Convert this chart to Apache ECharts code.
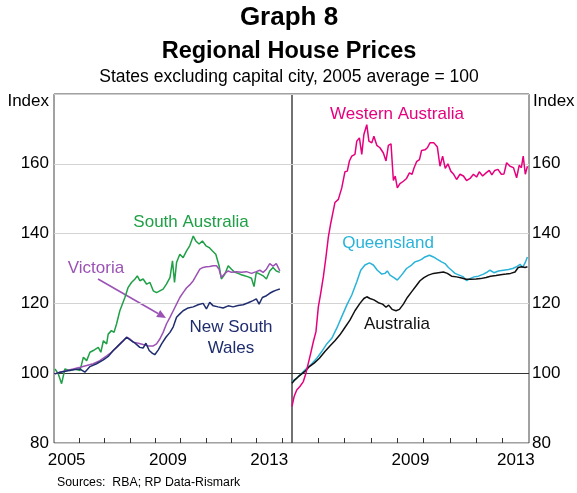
<!DOCTYPE html>
<html><head><meta charset="utf-8">
<script src="https://cdn.jsdelivr.net/npm/echarts@6/dist/echarts.min.js"></script>
<style>html,body{margin:0;padding:0;background:#fff}#c{width:577px;height:493px}</style>
</head><body><div id="c"></div>
<script>
// ---- Data (decimal year, index value) ----
const saT = [2005.04,2005.17,2005.30,2005.43,2005.63,2005.83,2006.03,2006.16,2006.29,2006.42,2006.55,2006.75,2006.85,2006.95,2007.08,2007.14,2007.27,2007.37,2007.47,2007.60,2007.80,2007.93,2008.06,2008.20,2008.29,2008.39,2008.52,2008.66,2008.79,2008.92,2009.05,2009.18,2009.31,2009.44,2009.58,2009.68,2009.76,2009.84,2009.97,2010.10,2010.23,2010.36,2010.50,2010.60,2010.73,2010.86,2011.00,2011.13,2011.26,2011.39,2011.52,2011.61,2011.75,2011.88,2012.01,2012.14,2012.27,2012.40,2012.53,2012.67,2012.80,2012.90,2012.99,2013.13,2013.26,2013.39,2013.52,2013.65,2013.78,2013.92];
const saV = [101.2,99.8,97.0,101.2,100.8,101.2,100.8,104.6,103.6,106.0,106.5,107.4,106.0,109.3,108.4,111.2,112.2,111.7,114.1,117.9,121.7,124.6,126.0,127.0,127.9,126.5,127.0,125.5,126.0,123.6,123.1,123.6,124.1,125.5,127.4,132.2,126.0,131.7,134.1,133.1,135.0,136.5,139.3,137.9,137.0,137.9,136.5,136.0,135.0,134.1,130.8,127.0,128.4,130.8,129.8,128.9,128.6,128.2,127.9,127.6,127.2,124.8,128.9,128.4,127.9,127.0,129.3,130.3,129.3,128.9];

const vicT = [2005.04,2005.24,2005.50,2005.76,2006.03,2006.29,2006.55,2006.81,2007.08,2007.27,2007.47,2007.67,2007.87,2008.00,2008.13,2008.33,2008.52,2008.72,2008.92,2009.05,2009.18,2009.31,2009.44,2009.58,2009.71,2009.84,2009.97,2010.10,2010.23,2010.36,2010.50,2010.63,2010.76,2010.89,2011.02,2011.15,2011.29,2011.42,2011.52,2011.61,2011.75,2011.88,2012.01,2012.21,2012.40,2012.60,2012.80,2012.99,2013.13,2013.26,2013.39,2013.52,2013.65,2013.78,2013.92];
const vicV = [99.8,100.3,100.8,101.2,101.7,102.2,102.7,103.6,105.0,106.0,107.4,108.9,110.3,109.8,108.9,108.6,108.2,107.8,107.8,108.4,109.8,111.7,114.1,116.0,117.9,119.8,121.7,123.1,124.4,125.3,126.5,128.2,129.8,130.3,130.5,130.6,130.8,130.8,129.8,127.4,128.6,129.3,128.9,129.1,128.9,129.1,128.6,129.1,129.5,128.9,129.8,131.4,130.7,131.4,129.3];

const nswT = [2005.04,2005.24,2005.50,2005.76,2006.03,2006.22,2006.42,2006.68,2006.95,2007.14,2007.34,2007.54,2007.74,2007.87,2008.02,2008.20,2008.39,2008.52,2008.63,2008.76,2008.89,2008.98,2009.12,2009.25,2009.42,2009.58,2009.71,2009.84,2009.97,2010.10,2010.30,2010.50,2010.69,2010.89,2011.02,2011.15,2011.29,2011.48,2011.68,2011.88,2012.07,2012.27,2012.47,2012.67,2012.86,2012.99,2013.10,2013.23,2013.39,2013.52,2013.65,2013.78,2013.92];
const nswV = [99.8,100.3,100.6,101.0,101.2,100.3,101.9,102.7,103.8,104.8,106.5,107.9,109.3,110.3,109.5,108.6,107.4,107.2,108.6,106.5,105.7,105.3,106.7,108.4,110.3,111.7,113.3,116.0,117.0,117.9,118.7,119.0,119.6,120.0,118.4,120.3,119.3,119.0,118.7,119.3,119.0,119.4,119.6,120.2,120.8,121.3,119.8,121.7,122.2,122.9,123.4,123.8,124.1];

const waT = [2005.00,2005.08,2005.18,2005.30,2005.43,2005.53,2005.62,2005.71,2005.81,2005.91,2006.00,2006.09,2006.19,2006.29,2006.38,2006.47,2006.54,2006.63,2006.76,2006.89,2007.01,2007.10,2007.18,2007.27,2007.39,2007.46,2007.56,2007.65,2007.73,2007.84,2007.92,2008.03,2008.11,2008.22,2008.34,2008.47,2008.57,2008.66,2008.76,2008.85,2008.92,2009.00,2009.10,2009.23,2009.35,2009.46,2009.56,2009.63,2009.73,2009.84,2009.92,2010.05,2010.14,2010.24,2010.39,2010.52,2010.62,2010.72,2010.82,2010.92,2011.03,2011.13,2011.25,2011.38,2011.51,2011.63,2011.76,2011.89,2012.01,2012.11,2012.24,2012.37,2012.49,2012.59,2012.70,2012.82,2012.95,2013.05,2013.15,2013.28,2013.41,2013.53,2013.63,2013.71,2013.78,2013.86,2013.94];
const waV = [90.5,93.3,95.2,96.2,97.6,100.0,102.9,105.7,109.0,111.9,119.0,122.9,127.6,133.3,139.0,142.9,145.5,148.9,149.8,153.1,157.7,157.9,160.8,162.2,162.7,166.5,167.4,162.7,168.4,171.2,166.5,166.0,167.9,165.3,164.6,163.1,160.8,165.3,165.7,155.2,156.5,153.1,154.3,155.0,155.8,157.4,157.0,158.7,160.6,161.2,163.8,164.0,164.6,166.0,166.0,164.8,159.3,162.2,158.7,160.0,157.9,157.1,155.5,157.0,156.5,155.2,155.8,157.0,156.2,157.7,156.5,157.4,158.1,156.8,158.1,158.4,157.0,157.1,160.3,159.3,158.9,156.0,159.6,158.9,162.2,157.0,159.3];

const qldT = [2005.00,2005.18,2005.37,2005.56,2005.75,2005.94,2006.13,2006.32,2006.51,2006.70,2006.89,2007.08,2007.27,2007.46,2007.61,2007.77,2007.94,2008.09,2008.24,2008.41,2008.53,2008.62,2008.72,2008.87,2009.00,2009.16,2009.35,2009.54,2009.67,2009.80,2009.92,2010.05,2010.22,2010.37,2010.52,2010.68,2010.81,2010.94,2011.06,2011.19,2011.35,2011.51,2011.63,2011.76,2011.91,2012.08,2012.27,2012.42,2012.52,2012.67,2012.84,2013.03,2013.22,2013.38,2013.53,2013.66,2013.76,2013.85,2013.94];
const qldV = [97.6,98.6,100.0,101.4,102.7,104.3,106.2,108.4,110.0,112.9,116.2,119.5,122.4,126.2,129.5,131.0,131.6,131.0,129.5,128.4,128.6,129.3,128.1,127.4,126.7,128.1,130.0,131.0,131.9,132.2,132.6,133.3,133.8,133.3,132.6,131.9,131.4,130.3,129.5,128.6,128.1,127.6,126.5,127.1,127.6,127.8,128.4,129.0,129.5,128.8,129.3,129.5,129.7,130.0,130.5,131.2,130.3,131.6,133.3];

const ausT = [2005.00,2005.11,2005.24,2005.37,2005.49,2005.66,2005.84,2006.04,2006.25,2006.44,2006.63,2006.82,2007.01,2007.20,2007.39,2007.58,2007.73,2007.84,2007.96,2008.11,2008.28,2008.44,2008.57,2008.67,2008.80,2008.95,2009.08,2009.23,2009.38,2009.54,2009.71,2009.86,2010.01,2010.18,2010.37,2010.56,2010.75,2010.90,2011.06,2011.25,2011.44,2011.61,2011.78,2011.99,2012.16,2012.37,2012.54,2012.75,2012.92,2013.13,2013.30,2013.47,2013.59,2013.72,2013.85,2013.94];
const ausV = [97.1,98.1,99.0,99.8,100.5,101.9,102.9,104.3,106.2,107.8,109.3,111.0,113.1,115.2,117.9,120.0,121.4,121.9,121.4,121.0,120.2,119.8,118.9,119.5,118.3,117.9,118.3,119.8,121.7,123.3,125.0,126.5,127.4,128.1,128.6,128.8,129.0,128.6,127.8,127.6,127.3,126.9,126.9,127.0,127.1,127.4,127.8,128.0,128.2,128.4,128.6,129.0,130.3,130.5,130.3,130.5];

const yTicks = [80, 100, 120, 140, 160];
const leftYearLabels = [2005, 2009, 2013];
const rightYearLabels = [2009, 2013];

function pairs(t, v) { const n = Math.min(t.length, v.length); const o = []; for (let i = 0; i < n; i++) o.push([t[i], v[i]]); return o; }

const FONT = 'Liberation Sans, Arial, sans-serif';
const chart = echarts.init(document.getElementById('c'), null, {renderer: 'canvas'});

function yAxis(gridIndex, pos) {
  return {
    type: 'value', gridIndex, position: pos, min: 80, max: 180, interval: 20,
    axisLine: {show: false}, axisTick: {show: false},
    axisLabel: {color: '#000', fontSize: 17, fontFamily: FONT, margin: pos === 'left' ? 5 : 3,
      formatter: v => yTicks.indexOf(v) >= 0 ? String(v) : ''},
    splitLine: {show: true, lineStyle: {color: ['#cccccc', '#333333', '#d3d3d3', '#d3d3d3', '#d3d3d3', '#cccccc'], width: 1}}
  };
}
function xAxis(gridIndex, max, labels, ticks) {
  return {
    type: 'value', gridIndex, min: 2005, max: max,
    axisLine: {show: false},
    axisTick: {show: true, inside: true, length: 5, customValues: ticks, lineStyle: {color: '#333'}},
    axisLabel: {show: true, color: '#000', fontSize: 17, fontFamily: FONT, margin: 9,
      customValues: labels.map(y => y + 0.5), formatter: v => String(Math.floor(v))},
    splitLine: {show: false}
  };
}

const option = {
  animation: false,
  backgroundColor: '#fff',
  grid: [
    {left: 54, top: 94, width: 238, height: 349, show: true, borderColor: '#444', borderWidth: 1, backgroundColor: 'transparent'},
    {left: 292, top: 94, width: 237, height: 349, show: true, borderColor: '#444', borderWidth: 1, backgroundColor: 'transparent'}
  ],
  xAxis: [
    xAxis(0, 2014.4, leftYearLabels, [2006,2007,2008,2009,2010,2011,2012,2013,2014]),
    xAxis(1, 2014, rightYearLabels, [2006,2007,2008,2009,2010,2011,2012,2013])
  ],
  yAxis: [yAxis(0, 'left'), yAxis(1, 'right')],
  series: [
    {name: 'South Australia', type: 'line', xAxisIndex: 0, yAxisIndex: 0, data: pairs(saT, saV), showSymbol: false, lineStyle: {color: '#1fa046', width: 1.5}},
    {name: 'Victoria', type: 'line', xAxisIndex: 0, yAxisIndex: 0, data: pairs(vicT, vicV), showSymbol: false, lineStyle: {color: '#9b52b4', width: 1.5}},
    {name: 'New South Wales', type: 'line', xAxisIndex: 0, yAxisIndex: 0, data: pairs(nswT, nswV), showSymbol: false, lineStyle: {color: '#1f2d6e', width: 1.5}},
    {name: 'Queensland', type: 'line', xAxisIndex: 1, yAxisIndex: 1, data: pairs(qldT, qldV), showSymbol: false, lineStyle: {color: '#2ab3d9', width: 1.5}},
    {name: 'Australia', type: 'line', xAxisIndex: 1, yAxisIndex: 1, data: pairs(ausT, ausV), showSymbol: false, lineStyle: {color: '#111111', width: 1.5}},
    {name: 'Western Australia', type: 'line', xAxisIndex: 1, yAxisIndex: 1, data: pairs(waT, waV), showSymbol: false, lineStyle: {color: '#e6007e', width: 1.5}}
  ],
  graphic: [
    {type: 'text', x: 289, y: 18, style: {text: 'Graph 8', font: 'bold 26px ' + FONT, fill: '#000', align: 'center', verticalAlign: 'middle'}},
    {type: 'text', x: 289, y: 52, style: {text: 'Regional House Prices', font: 'bold 23.5px ' + FONT, fill: '#000', align: 'center', verticalAlign: 'middle'}},
    {type: 'text', x: 289, y: 77, style: {text: 'States excluding capital city, 2005 average = 100', font: '17.5px ' + FONT, fill: '#000', align: 'center', verticalAlign: 'middle'}},
    {type: 'text', x: 49, y: 101, style: {text: 'Index', font: '17px ' + FONT, fill: '#000', align: 'right', verticalAlign: 'middle'}},
    {type: 'text', x: 533, y: 101, style: {text: 'Index', font: '17px ' + FONT, fill: '#000', align: 'left', verticalAlign: 'middle'}},
    {type: 'text', x: 57, y: 483, style: {text: 'Sources:  RBA; RP Data-Rismark', font: '12.3px ' + FONT, fill: '#000', align: 'left', verticalAlign: 'middle'}},
    {type: 'text', x: 191, y: 222, style: {text: 'South Australia', font: '17px ' + FONT, fill: '#1fa046', align: 'center', verticalAlign: 'middle'}},
    {type: 'text', x: 96, y: 268, style: {text: 'Victoria', font: '17px ' + FONT, fill: '#9b52b4', align: 'center', verticalAlign: 'middle'}},
    {type: 'text', x: 231, y: 327, style: {text: 'New South', font: '17px ' + FONT, fill: '#1f2d6e', align: 'center', verticalAlign: 'middle'}},
    {type: 'text', x: 231, y: 348, style: {text: 'Wales', font: '17px ' + FONT, fill: '#1f2d6e', align: 'center', verticalAlign: 'middle'}},
    {type: 'text', x: 397, y: 114, style: {text: 'Western Australia', font: '17px ' + FONT, fill: '#e6007e', align: 'center', verticalAlign: 'middle'}},
    {type: 'text', x: 388, y: 243, style: {text: 'Queensland', font: '17px ' + FONT, fill: '#2ab3d9', align: 'center', verticalAlign: 'middle'}},
    {type: 'text', x: 397, y: 324, style: {text: 'Australia', font: '17px ' + FONT, fill: '#111', align: 'center', verticalAlign: 'middle'}},
    {type: 'line', shape: {x1: 98, y1: 279, x2: 158, y2: 313.5}, style: {stroke: '#9b52b4', lineWidth: 1.5}},
    {type: 'polygon', shape: {points: [[166, 318], [156.2, 317.0], [160.2, 310.0]]}, style: {fill: '#9b52b4'}}
  ]
};
chart.setOption(option);
</script>
</body></html>
